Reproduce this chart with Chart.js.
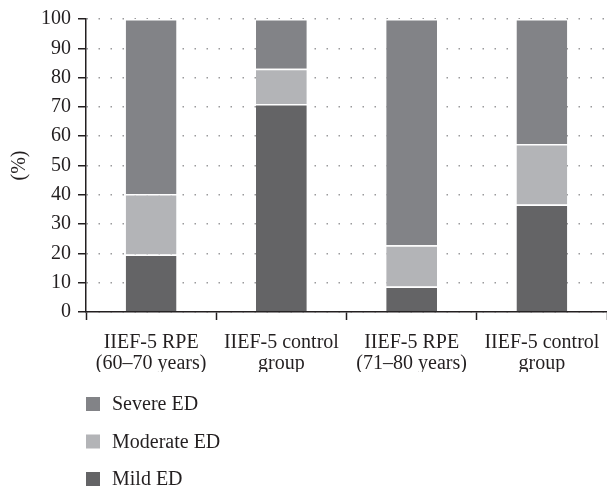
<!DOCTYPE html>
<html>
<head>
<meta charset="utf-8">
<script src="https://cdn.jsdelivr.net/npm/chart.js@4.4.1/dist/chart.umd.min.js"></script>
<style>
  html, body { margin: 0; padding: 0; background: #fff; }
  #wrap { position: relative; width: 607px; height: 489px; }
</style>
</head>
<body>
<div id="wrap"><canvas id="myChart" width="607" height="489"></canvas></div>
<script>
// categories and values (%)
const groups = [['IIEF-5 RPE', '(60\u201370 years)'], ['IIEF-5 control', 'group'], ['IIEF-5 RPE', '(71\u201380 years)'], ['IIEF-5 control', 'group']];
const mildED = [19.6, 71, 8.7, 36.7];
const moderateED = [20.7, 12, 14.1, 20.6];
const severeED = [59.7, 17, 77.2, 42.7];
const yTicks = [0, 10, 20, 30, 40, 50, 60, 70, 80, 90, 100];

const serif = '"Liberation Serif", "DejaVu Serif", serif';

// legend drawn as a vertical list under the axis, top item = top of stack
const listLegend = {
  id: 'listLegend',
  afterDraw(chart) {
    const ctx = chart.ctx;
    const left = chart.chartArea.left;
    const items = chart.data.datasets.slice().reverse();
    ctx.save();
    ctx.font = '20px ' + serif;
    ctx.textBaseline = 'middle';
    items.forEach((ds, i) => {
      const y = 404 + i * 37.5;
      ctx.fillStyle = ds.backgroundColor;
      ctx.fillRect(left, y - 7, 14, 14);
      ctx.fillStyle = '#231f20';
      ctx.fillText(ds.label, left + 26, y + 1);
    });
    ctx.restore();
  }
};

const ctx = document.getElementById('myChart').getContext('2d');
const myChart = new Chart(ctx, {
  type: 'bar',
  data: {
    labels: groups,
    datasets: [{
      label: 'Mild ED',
      data: mildED,
      backgroundColor: '#646466'
    }, {
      label: 'Moderate ED',
      data: moderateED,
      backgroundColor: '#b3b4b7'
    }, {
      label: 'Severe ED',
      data: severeED,
      backgroundColor: '#828387'
    }]
  },
  options: {
    responsive: false,
    animation: false,
    layout: { padding: { top: 12, right: 0, bottom: 117, left: 0 } },
    datasets: {
      bar: {
        categoryPercentage: 1,
        barPercentage: 0.39,
        borderColor: '#ffffff',
        borderWidth: { top: 1.5, left: 0, right: 0, bottom: 0 },
        borderSkipped: false
      }
    },
    plugins: {
      legend: { display: false },
      tooltip: { enabled: false }
    },
    scales: {
      x: {
        stacked: true,
        grid: { drawOnChartArea: false, tickLength: 8, tickColor: '#231f20', tickWidth: 1.5 },
        border: { color: '#231f20', width: 1.5 },
        ticks: { color: '#231f20', font: { family: serif, size: 20, lineHeight: 1.05 }, padding: 12, maxRotation: 0 },
        afterFit: (scale) => {
          scale.height = 60;
          scale.paddingLeft = 0;
          scale.paddingRight = 0;
        }
      },
      y: {
        stacked: true,
        min: 0,
        max: 100,
        afterBuildTicks: (scale) => { scale.ticks = yTicks.map(v => ({ value: v })); },
        grid: {
          color: '#9a9a9c',
          lineWidth: 1.5,
          tickLength: 8,
          tickColor: '#231f20',
          tickWidth: 1.5,
          tickBorderDash: []
        },
        border: { color: '#231f20', width: 1.5, dash: [1.5, 10.5] },
        ticks: { color: '#231f20', font: { family: serif, size: 20 }, padding: 7 },
        title: { display: true, text: '(%)', color: '#231f20', font: { family: serif, size: 20 }, padding: { top: 8, bottom: 0 } },
        afterFit: (scale) => { scale.width = 86; }
      }
    }
  },
  plugins: [listLegend]
});
</script>
</body>
</html>
